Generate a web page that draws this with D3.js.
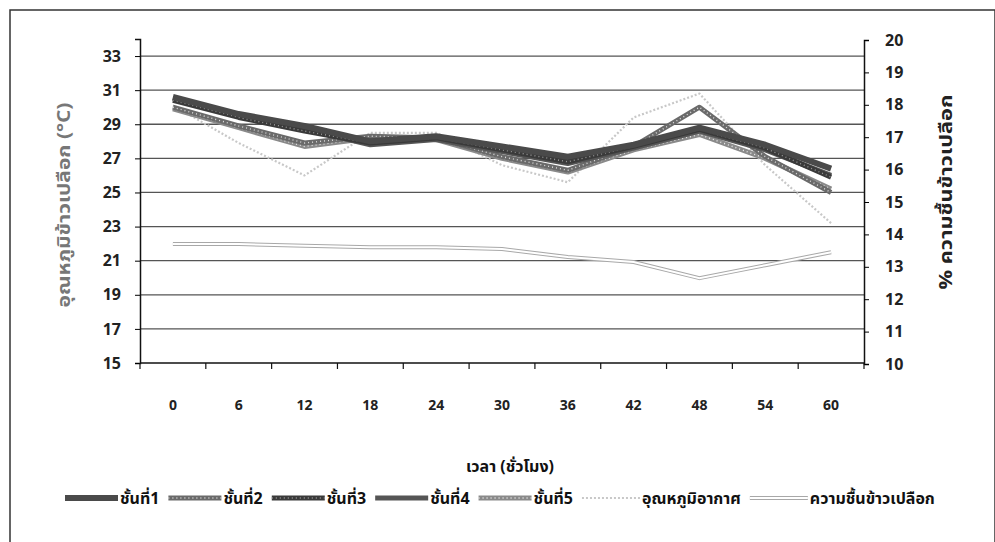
<!DOCTYPE html>
<html>
<head>
<meta charset="utf-8">
<script src="https://cdn.jsdelivr.net/npm/d3@7"></script>
<style>
  body { margin: 0; background: #fff; }
  text { font-family: "Noto Sans Thai", Tahoma, "DejaVu Sans", "Liberation Sans", sans-serif; }
</style>
</head>
<body>
<svg width="995" height="542"></svg>
<script>
// hours (x categories)
const hours = [0, 6, 12, 18, 24, 30, 36, 42, 48, 54, 60];

// paddy temperature per layer (°C, left axis)
const layer1 = [30.6, 29.6, 28.9, 28.0, 28.3, 27.7, 27.1, 27.8, 28.8, 27.8, 26.4];
const layer2 = [30.0, 28.9, 27.9, 28.3, 28.2, 27.1, 26.3, 27.7, 30.0, 27.1, 25.0];
const layer3 = [30.4, 29.4, 28.6, 27.9, 28.2, 27.5, 26.8, 27.7, 28.7, 27.6, 25.9];
const layer4 = [30.5, 29.5, 28.7, 27.8, 28.1, 27.4, 26.7, 27.6, 28.6, 27.5, 26.0];
const layer5 = [29.9, 28.8, 27.7, 28.2, 28.1, 27.0, 26.2, 27.5, 28.4, 27.0, 25.2];
// air temperature (°C, left axis)
const airTemp = [30.1, 27.9, 26.0, 28.5, 28.5, 26.6, 25.6, 29.4, 30.8, 26.6, 23.2];
// paddy moisture (%, right axis)
const moisture = [13.7, 13.7, 13.65, 13.6, 13.6, 13.55, 13.3, 13.15, 12.65, 13.05, 13.45];

const seriesNames = ["ชั้นที่1", "ชั้นที่2", "ชั้นที่3", "ชั้นที่4", "ชั้นที่5", "อุณหภูมิอากาศ", "ความชื้นข้าวเปลือก"];
const leftTicks = [15, 17, 19, 21, 23, 25, 27, 29, 31, 33];
const rightTicks = [10, 11, 12, 13, 14, 15, 16, 17, 18, 19, 20];

const svg = d3.select("svg");

const plotLeft = 140, plotRight = 864, plotTop = 39, plotBottom = 363;

const x = d3.scaleBand().domain(hours).range([plotLeft, plotRight]);
const yL = d3.scaleLinear().domain([15, 34]).range([plotBottom, plotTop]);
const yR = d3.scaleLinear().domain([10, 20]).range([plotBottom + 1, plotTop + 1]);
const cx = h => x(h) + x.bandwidth() / 2;

// outer frame
svg.append("rect")
  .attr("x", 10).attr("y", 10)
  .attr("width", 985).attr("height", 560)
  .attr("fill", "none").attr("stroke", "#333").attr("stroke-width", 1.5);

// gridlines
svg.append("g")
  .selectAll("line")
  .data(leftTicks.filter(t => t > 15))
  .enter().append("line")
  .attr("x1", plotLeft).attr("x2", plotRight)
  .attr("y1", d => yL(d)).attr("y2", d => yL(d))
  .attr("stroke", "#555").attr("stroke-width", 1.3);

// left axis
const gL = svg.append("g").attr("transform", `translate(${plotLeft},0)`)
  .call(d3.axisLeft(yL).tickValues(leftTicks).tickSize(5).tickPadding(14));
gL.select(".domain").attr("stroke", "#111").attr("stroke-width", 1.5);
gL.selectAll("text").attr("font-size", "16px").attr("font-weight", "bold").attr("fill", "#222");

// right axis
const gR = svg.append("g").attr("transform", `translate(${plotRight},0)`)
  .call(d3.axisRight(yR).tickValues(rightTicks).tickSize(5).tickPadding(16));
gR.select(".domain").attr("stroke", "#111").attr("stroke-width", 1.5);
gR.selectAll("text").attr("font-size", "16px").attr("font-weight", "bold").attr("fill", "#222");

// x axis (ticks between categories)
svg.append("line")
  .attr("x1", plotLeft).attr("x2", plotRight)
  .attr("y1", plotBottom).attr("y2", plotBottom)
  .attr("stroke", "#111").attr("stroke-width", 1.5);
svg.append("g").selectAll("line")
  .data(hours.concat(["end"]))
  .enter().append("line")
  .attr("x1", (d, i) => plotLeft + i * x.step())
  .attr("x2", (d, i) => plotLeft + i * x.step())
  .attr("y1", plotBottom).attr("y2", plotBottom + 6)
  .attr("stroke", "#111").attr("stroke-width", 1.2);
svg.append("g").selectAll("text")
  .data(hours)
  .enter().append("text")
  .attr("x", d => cx(d))
  .attr("y", 410)
  .attr("text-anchor", "middle")
  .attr("font-size", "14px")
  .attr("font-weight", "bold")
  .attr("fill", "#222")
  .text(d => d);

// axis titles
svg.append("text")
  .attr("transform", `translate(70, 205) rotate(-90)`)
  .attr("text-anchor", "middle")
  .attr("font-size", "17px").attr("font-weight", "bold").attr("fill", "#777")
  .attr("textLength", 205).attr("lengthAdjust", "spacingAndGlyphs")
  .text("อุณหภูมิข้าวเปลือก (°C)");
svg.append("text")
  .attr("transform", `translate(952, 192) rotate(-90)`)
  .attr("text-anchor", "middle")
  .attr("font-size", "17px").attr("font-weight", "bold").attr("fill", "#222")
  .attr("textLength", 195).attr("lengthAdjust", "spacingAndGlyphs")
  .text("% ความชื้นข้าวเปลือก");
svg.append("text")
  .attr("x", 510).attr("y", 472)
  .attr("text-anchor", "middle")
  .attr("font-size", "16px").attr("font-weight", "bold").attr("fill", "#111")
  .text("เวลา (ชั่วโมง)");

// series styles
const styles = [
  {base: "#4a4a4a", w: 6},
  {base: "#6a6a6a", w: 5, dots: "#ddd"},
  {base: "#3a3a3a", w: 5, dots: "#999"},
  {base: "#555555", w: 5},
  {base: "#8a8a8a", w: 5, dots: "#eee"},
  {base: "#c8c8c8", w: 2.2, dash: "2,2"},
  {base: "#a8a8a8", w: 4, inner: "#fff"}
];

const line = (scale) => d3.line().x((d, i) => cx(hours[i])).y(d => scale(d));

function drawSeries(g, values, scale, st) {
  g.append("path")
    .attr("d", line(scale)(values))
    .attr("fill", "none")
    .attr("stroke", st.base)
    .attr("stroke-width", st.w)
    .attr("stroke-dasharray", st.dash || null)
    .attr("stroke-linejoin", "round");
  if (st.dots) {
    g.append("path")
      .attr("d", line(scale)(values))
      .attr("fill", "none")
      .attr("stroke", st.dots)
      .attr("stroke-width", 1.4)
      .attr("stroke-dasharray", "1,3");
  }
  if (st.inner) {
    g.append("path")
      .attr("d", line(scale)(values))
      .attr("fill", "none")
      .attr("stroke", st.inner)
      .attr("stroke-width", st.w - 2);
  }
}

const gLines = svg.append("g");
const tempSeries = [layer1, layer2, layer3, layer4, layer5, airTemp];
drawSeries(gLines, moisture, yR, styles[6]);
drawSeries(gLines, airTemp, yL, styles[5]);
[4, 1, 3, 2, 0].forEach(i => drawSeries(gLines, tempSeries[i], yL, styles[i]));

// legend
const legend = svg.append("g").attr("transform", "translate(0, 498)");
let lx = 65;
seriesNames.forEach((name, i) => {
  const st = styles[i];
  const g = legend.append("g");
  const sw = i >= 5 ? 58 : 53;
  g.append("path").attr("d", `M${lx},0H${lx + sw}`)
    .attr("stroke", st.base).attr("stroke-width", st.w)
    .attr("stroke-dasharray", st.dash || null);
  if (st.dots) g.append("path").attr("d", `M${lx},0H${lx + sw}`)
    .attr("stroke", st.dots).attr("stroke-width", 1.4).attr("stroke-dasharray", "1,3");
  if (st.inner) g.append("path").attr("d", `M${lx},0H${lx + sw}`)
    .attr("stroke", st.inner).attr("stroke-width", st.w - 2);
  const t = g.append("text")
    .attr("x", lx + sw + 2).attr("y", 6)
    .attr("font-size", "16px").attr("font-weight", "bold").attr("fill", "#111")
    .text(name);
  lx += sw + 2 + t.node().getComputedTextLength() + 9;
});
</script>
</body>
</html>
